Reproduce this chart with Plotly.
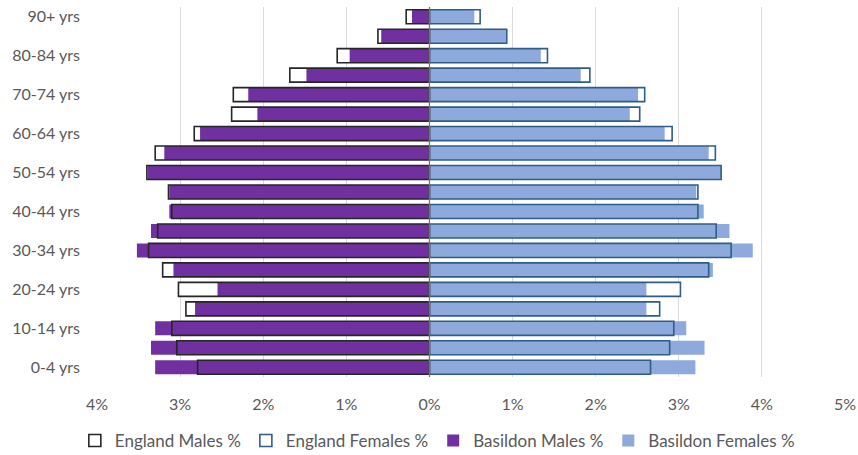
import plotly.graph_objects as go

# Age bands, youngest first
age_groups = ["0-4 yrs", "5-9 yrs", "10-14 yrs", "15-19 yrs", "20-24 yrs", "25-29 yrs",
              "30-34 yrs", "35-39 yrs", "40-44 yrs", "45-49 yrs", "50-54 yrs", "55-59 yrs",
              "60-64 yrs", "65-69 yrs", "70-74 yrs", "75-79 yrs", "80-84 yrs", "85-89 yrs",
              "90+ yrs"]

# Share of population (%) in each band
england_males = [2.79, 3.04, 3.10, 2.93, 3.02, 3.21, 3.38, 3.27, 3.10, 3.14,
                 3.40, 3.30, 2.83, 2.38, 2.36, 1.68, 1.11, 0.62, 0.28]
england_females = [2.66, 2.89, 2.94, 2.77, 3.02, 3.36, 3.63, 3.45, 3.23, 3.23,
                   3.51, 3.44, 2.92, 2.53, 2.59, 1.93, 1.42, 0.93, 0.61]
basildon_males = [3.30, 3.35, 3.30, 2.82, 2.55, 3.08, 3.52, 3.35, 3.13, 3.13,
                  3.39, 3.19, 2.76, 2.07, 2.18, 1.48, 0.96, 0.58, 0.21]
basildon_females = [3.20, 3.31, 3.09, 2.61, 2.61, 3.41, 3.89, 3.61, 3.30, 3.21,
                    3.51, 3.36, 2.83, 2.41, 2.51, 1.82, 1.34, 0.92, 0.54]

label_groups = age_groups[::2]
x_ticks = [-4, -3, -2, -1, 0, 1, 2, 3, 4, 5]
x_tick_text = [f"{abs(v)}%" for v in x_ticks]

neg = lambda vals: [-v for v in vals]

BAR_W = 0.72
FONT = "Lato, Open Sans, Liberation Sans, Arial"
TEXT = "#595959"

fig = go.Figure()

# England bars: white base underneath the Basildon bars
fig.add_trace(go.Bar(y=age_groups, x=neg(england_males), orientation="h", width=BAR_W,
                     marker=dict(color="white", line=dict(width=0)),
                     showlegend=False, hoverinfo="skip"))
fig.add_trace(go.Bar(y=age_groups, x=england_females, orientation="h", width=BAR_W,
                     marker=dict(color="white", line=dict(width=0)),
                     showlegend=False, hoverinfo="skip"))

# Basildon filled bars
fig.add_trace(go.Bar(y=age_groups, x=neg(basildon_males), orientation="h", width=BAR_W,
                     name="Basildon Males %", marker=dict(color="#7030A0", line=dict(width=0)),
                     legendrank=3))
fig.add_trace(go.Bar(y=age_groups, x=basildon_females, orientation="h", width=BAR_W,
                     name="Basildon Females %", marker=dict(color="#8EA9DB", line=dict(width=0)),
                     legendrank=4))

# England outlines drawn on top
fig.add_trace(go.Bar(y=age_groups, x=neg(england_males), orientation="h", width=BAR_W,
                     name="England Males %",
                     marker=dict(color="rgba(255,255,255,0)", line=dict(color="#262626", width=1.6)),
                     legendrank=1))
fig.add_trace(go.Bar(y=age_groups, x=england_females, orientation="h", width=BAR_W,
                     name="England Females %",
                     marker=dict(color="rgba(255,255,255,0)", line=dict(color="#2F5D8A", width=1.6)),
                     legendrank=2))

# Centre line at 0%
fig.add_shape(type="line", xref="x", yref="paper", x0=0, x1=0, y0=0, y1=1,
              line=dict(color="#C55A11", width=1.2), layer="above")

fig.update_layout(
    width=858, height=455,
    margin=dict(l=97, r=13, t=7, b=78, autoexpand=False),
    barmode="overlay",
    plot_bgcolor="white", paper_bgcolor="white",
    font=dict(family=FONT, size=16, color=TEXT),
    xaxis=dict(range=[-4, 5], tickvals=x_ticks, ticktext=x_tick_text,
               showgrid=True, gridcolor="#D9D9D9", gridwidth=1, zeroline=False,
               showline=False, ticks="", ticklabelstandoff=16,
               tickfont=dict(family=FONT, size=16, color=TEXT)),
    yaxis=dict(categoryorder="array", categoryarray=age_groups,
               tickvals=label_groups, ticktext=label_groups,
               showgrid=False, zeroline=False, showline=False, ticks="",
               ticklabelstandoff=16, tickfont=dict(family=FONT, size=16, color=TEXT),
               range=[-0.5, 18.5]),
    legend=dict(orientation="h", x=0.455, xanchor="center",
                yref="container", y=1 - 441 / 455, yanchor="middle",
                font=dict(family=FONT, size=17, color=TEXT), traceorder="normal",
                itemwidth=30, tracegroupgap=0),
    bargap=0.28,
)

fig.write_html("out.html")
